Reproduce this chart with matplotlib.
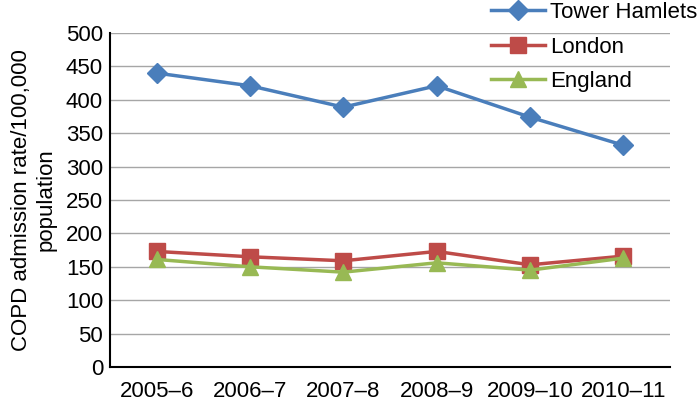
import numpy as np
import matplotlib.pyplot as plt

plt.rcParams['font.family'] = ['Liberation Sans', 'DejaVu Sans']

years = ['2005\u20136', '2006\u20137', '2007\u20138', '2008\u20139', '2009\u201310', '2010\u201311']
tower_hamlets = [440, 421, 389, 421, 374, 332]
london = [173, 165, 159, 173, 153, 166]
england = [161, 150, 142, 156, 145, 163]

fig = plt.figure(figsize=(7, 4.05), dpi=100)
ax = fig.add_axes([110/700, 1 - 367/405, 560/700, 334/405])

x = np.arange(len(years))
ax.plot(x, tower_hamlets, color='#4a7ebb', marker='D', markersize=10, lw=2.5, label='Tower Hamlets')
ax.plot(x, london, color='#be4b48', marker='s', markersize=11, lw=2.5, label='London')
ax.plot(x, england, color='#98b954', marker='^', markersize=12, lw=2.5, label='England')

fs = 16
ax.set_xlim(-0.5, 5.5)
ax.set_ylim(0, 500)
ax.set_yticks(range(0, 501, 50))
ax.set_xticks(x)
ax.set_xticklabels(years)
ax.tick_params(axis='both', labelsize=fs, length=0)
ax.tick_params(axis='x', pad=10)
ax.tick_params(axis='y', pad=5)
ax.grid(axis='y', color='#a6a6a6', lw=1)
ax.set_axisbelow(True)
for s in ['top', 'right']:
    ax.spines[s].set_visible(False)
ax.spines['left'].set_linewidth(1.5)
ax.spines['bottom'].set_linewidth(1.5)

ax.set_ylabel('COPD admission rate/100,000\npopulation', fontsize=fs, labelpad=7, linespacing=1.2)

fig.legend(loc='upper left', bbox_to_anchor=(489/700, 1.0), frameon=False, fontsize=fs,
           handlelength=2.4, handletextpad=0.25, labelspacing=0.6, borderaxespad=0, borderpad=0.1)

fig.savefig('out.png', dpi=100)
